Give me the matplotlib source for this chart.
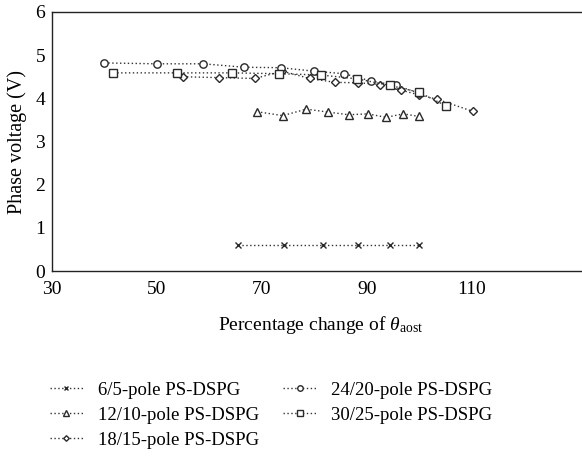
import matplotlib
matplotlib.use("Agg")
import matplotlib.pyplot as plt
from matplotlib.lines import Line2D

plt.rcParams['font.family'] = ['Liberation Serif', 'DejaVu Serif']
plt.rcParams['mathtext.fontset'] = 'custom'
plt.rcParams['mathtext.rm'] = 'Liberation Serif'
plt.rcParams['mathtext.it'] = 'Liberation Serif:italic'

labels = ["6/5-pole PS-DSPG", "12/10-pole PS-DSPG", "18/15-pole PS-DSPG",
          "24/20-pole PS-DSPG", "30/25-pole PS-DSPG"]

x_6 = [65.4, 74.2, 81.7, 88.4, 94.5, 100.0]
y_6 = [0.60, 0.60, 0.60, 0.60, 0.60, 0.60]

x_12 = [69.1, 74.0, 78.5, 82.7, 86.6, 90.2, 93.7, 97.0, 100.0]
y_12 = [3.69, 3.60, 3.75, 3.68, 3.62, 3.64, 3.56, 3.64, 3.58]

x_18 = [55.0, 61.8, 68.7, 73.9, 79.1, 84.0, 88.4, 92.6, 96.5, 100.0, 103.4, 110.2]
y_18 = [4.50, 4.48, 4.46, 4.63, 4.46, 4.37, 4.36, 4.32, 4.19, 4.08, 3.98, 3.70]

x_24 = [40.0, 50.0, 58.8, 66.7, 73.6, 79.9, 85.7, 90.9, 95.6, 100.0]
y_24 = [4.82, 4.80, 4.80, 4.72, 4.71, 4.63, 4.57, 4.40, 4.30, 4.12]

x_30 = [41.7, 53.8, 64.3, 73.3, 81.3, 88.2, 94.4, 100.0, 105.2]
y_30 = [4.59, 4.59, 4.59, 4.57, 4.54, 4.45, 4.30, 4.14, 3.82]

xs = [x_6, x_12, x_18, x_24, x_30]
ys = [y_6, y_12, y_18, y_24, y_30]
markers = ['x', '^', 'D', 'o', 's']
msizes = [4.8, 5.5, 3.8, 5.3, 5.5]

x_ticks = [30, 50, 70, 90, 110]
y_ticks = [0, 1, 2, 3, 4, 5, 6]

fig = plt.figure(figsize=(5.82, 4.62), dpi=100)
ax = fig.add_axes([52/582, 1-271/462, 1-52/582, (271-12)/462])

ec = '#2a2a2a'
ls = (0, (1.0, 1.8))
for x, y, m, ms in zip(xs, ys, markers, msizes):
    ax.plot(x, y, linestyle=ls, color='#333333', linewidth=1.0,
            marker=m, markersize=ms, markerfacecolor='white',
            markeredgecolor=ec, markeredgewidth=1.0)

ax.set_xlim(30, 30 + (582-52)/5.245)
ax.set_ylim(0, 6)
ax.set_xticks(x_ticks)
ax.set_yticks(y_ticks)
ax.tick_params(length=0, labelsize=14)
ax.tick_params(axis='y', pad=5)
ax.tick_params(axis='x', pad=7)
ax.spines['right'].set_visible(False)
for s in ['left', 'bottom', 'top']:
    ax.spines[s].set_linewidth(1.0)
    ax.spines[s].set_color('#222222')

ax.set_ylabel("Phase voltage (V)", fontsize=14.5, labelpad=6)
fig.text(321/582, 1-325/462, r"Percentage change of $\mathit{\theta}_{\mathrm{aost}}$",
         fontsize=14, ha='center', va='center')

handles = [Line2D([], [], linestyle=ls, color='#333333', linewidth=1.0,
                  marker=m, markersize=ms*0.75, markerfacecolor='white',
                  markeredgecolor=ec, markeredgewidth=1.0)
           for m, ms in zip(markers, msizes)]
fig.legend(handles, labels, ncol=2, loc='upper left',
           bbox_to_anchor=(33/582, 1-365/462), frameon=False, fontsize=13.5,
           handlelength=1.75, handletextpad=0.8, columnspacing=1.3,
           labelspacing=0.42)

fig.savefig("out.png", dpi=100)
